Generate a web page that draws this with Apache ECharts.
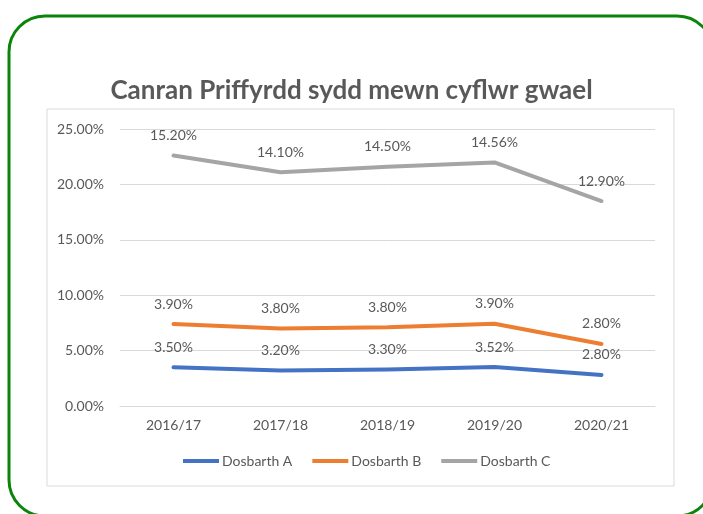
<!DOCTYPE html>
<html>
<head>
<meta charset="UTF-8">
<script src="https://cdn.jsdelivr.net/npm/echarts@6/dist/echarts.min.js"></script>
<style>
  html, body { margin: 0; padding: 0; background: #fff; }
  #chart { width: 703px; height: 514px; }
</style>
</head>
<body>
<div id="chart"></div>
<script>
  // data (values in %)
  var years = ['2016/17', '2017/18', '2018/19', '2019/20', '2020/21'];
  var dosbarthA = [3.50, 3.20, 3.30, 3.52, 2.80];
  var dosbarthB = [3.90, 3.80, 3.80, 3.90, 2.80];
  var dosbarthC = [15.20, 14.10, 14.50, 14.56, 12.90];
  var seriesNames = ['Dosbarth A', 'Dosbarth B', 'Dosbarth C'];
  var colours = ['#4472C4', '#ED7D31', '#A5A5A5'];

  var txt = '#595959';
  var chart = echarts.init(document.getElementById('chart'));

  function lineSeries(name, data, colour) {
    return {
      name: name,
      type: 'line',
      stack: 'total',
      data: data,
      symbol: 'circle',
      symbolSize: 0,
      showSymbol: true,
      lineStyle: { width: 4, color: colour, cap: 'round', join: 'round' },
      itemStyle: { color: colour },
      label: {
        show: true,
        position: 'top',
        distance: 13,
        color: txt,
        fontSize: 14,
        fontFamily: 'Lato',
        formatter: function (p) { return p.value.toFixed(2) + '%'; }
      },
      labelLayout: { hideOverlap: false }
    };
  }

  var option = {
    animation: false,
    title: {
      text: 'Canran Priffyrdd sydd mewn cyflwr gwael',
      left: 'center',
      top: 73,
      textStyle: { color: txt, fontSize: 26, fontWeight: 'bold', fontFamily: 'Lato' }
    },
    graphic: [
      {
        type: 'rect',
        shape: { x: 9, y: 16, width: 704, height: 500, r: 36 },
        style: { fill: 'none', stroke: '#0a850a', lineWidth: 3 },
        z: -1
      },
      {
        type: 'rect',
        shape: { x: 47, y: 109, width: 627, height: 377 },
        style: { fill: 'none', stroke: '#d9d9d9', lineWidth: 1 },
        z: -1
      }
    ],
    legend: {
      data: seriesNames,
      bottom: 41,
      left: 178,
      icon: 'rect',
      itemWidth: 36,
      itemHeight: 4,
      itemGap: 20,
      textStyle: { color: txt, fontSize: 14, fontFamily: 'Lato', padding: [0, 0, 0, -2] }
    },
    grid: { left: 120, right: 48, top: 129, bottom: 108 },
    xAxis: {
      type: 'category',
      data: years,
      boundaryGap: true,
      axisLine: { lineStyle: { color: '#d9d9d9' } },
      axisTick: { show: false },
      axisLabel: { color: txt, fontSize: 14, fontFamily: 'Lato', margin: 12 }
    },
    yAxis: {
      type: 'value',
      min: 0,
      max: 25,
      interval: 5,
      axisLine: { show: false },
      axisTick: { show: false },
      splitLine: { lineStyle: { color: '#d9d9d9' } },
      axisLabel: {
        color: txt, fontSize: 14, fontFamily: 'Lato', margin: 16,
        formatter: function (v) { return v.toFixed(2) + '%'; }
      }
    },
    series: [
      lineSeries(seriesNames[0], dosbarthA, colours[0]),
      lineSeries(seriesNames[1], dosbarthB, colours[1]),
      lineSeries(seriesNames[2], dosbarthC, colours[2])
    ]
  };

  chart.setOption(option);
</script>
</body>
</html>
